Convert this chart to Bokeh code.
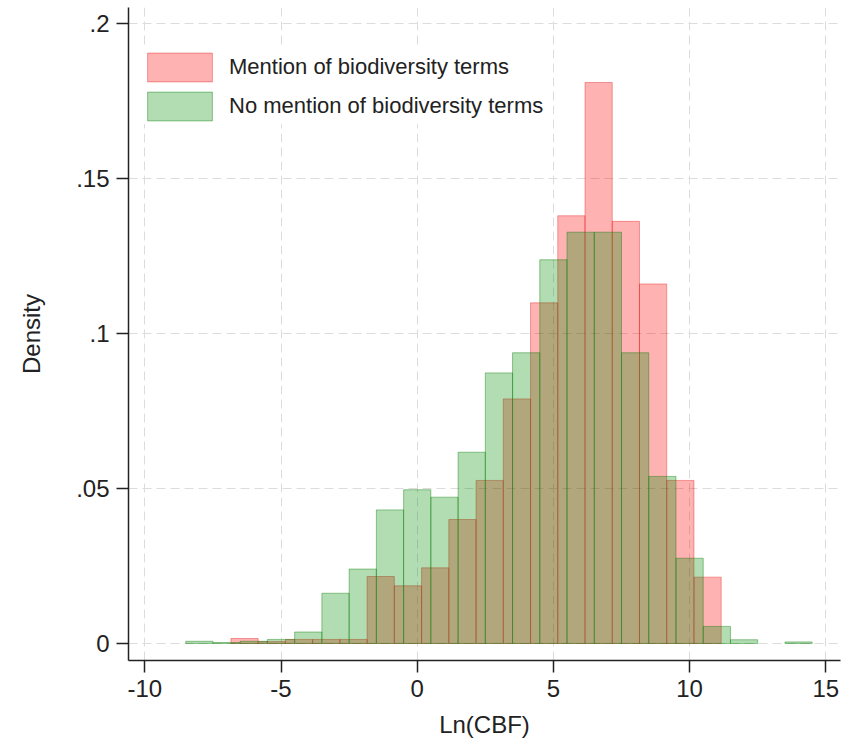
from bokeh.plotting import figure
from bokeh.models import (Range1d, FixedTicker, CustomJSTickFormatter, Legend,
                          LegendItem, ColumnDataSource)
from bokeh.embed import file_html
from bokeh.resources import INLINE

# ---- data ----
red_bin_edges = [-6.84, -5.84, -4.84, -3.84, -2.84, -1.84, -0.84, 0.16, 1.16,
                 2.16, 3.16, 4.16, 5.16, 6.16, 7.16, 8.16, 9.16, 10.16, 11.16]
red_density = [0.0016, 0.0006, 0.0013, 0.0013, 0.0013, 0.0216, 0.0186, 0.0244,
               0.0400, 0.0526, 0.0789, 0.1099, 0.1380, 0.1810, 0.1362, 0.1160,
               0.0526, 0.0214]

green_bin_edges = [-8.5, -7.5, -6.5, -5.5, -4.5, -3.5, -2.5, -1.5, -0.5, 0.5,
                   1.5, 2.5, 3.5, 4.5, 5.5, 6.5, 7.5, 8.5, 9.5, 10.5, 11.5,
                   12.5, 13.5, 14.5]
green_density = [0.0007, 0.0003, 0.0007, 0.0013, 0.0037, 0.0162, 0.0240, 0.0431,
                 0.0496, 0.0472, 0.0617, 0.0873, 0.0938, 0.1238, 0.1327, 0.1327,
                 0.0938, 0.0539, 0.0275, 0.0055, 0.0012, 0.0, 0.0005]

series_labels = ["Mention of biodiversity terms", "No mention of biodiversity terms"]
x_ticks = [-10, -5, 0, 5, 10, 15]
y_ticks = [0, 0.05, 0.1, 0.15, 0.2]
x_title = "Ln(CBF)"
y_title = "Density"


def hist_source(edges, dens):
    left, right, top = [], [], []
    for i, d in enumerate(dens):
        if d > 0:
            left.append(edges[i])
            right.append(edges[i + 1])
            top.append(d)
    return ColumnDataSource(dict(left=left, right=right, top=top,
                                 bottom=[0] * len(top)))


FONT = "Liberation Sans"
TXT = "#222222"

p = figure(width=848, height=742, output_backend="svg", toolbar_location=None,
           x_range=Range1d(-10.6, 15.54), y_range=Range1d(-0.0055, 0.2052),
           min_border_left=128, min_border_right=8, min_border_top=7,
           min_border_bottom=82)
p.outline_line_color = None
p.background_fill_color = "white"
p.border_fill_color = "white"

r_red = p.quad(left="left", right="right", top="top", bottom="bottom",
               source=hist_source(red_bin_edges, red_density),
               fill_color="#ff0000", fill_alpha=0.3,
               line_color="#e00000", line_alpha=0.35, line_width=1)
r_green = p.quad(left="left", right="right", top="top", bottom="bottom",
                 source=hist_source(green_bin_edges, green_density),
                 fill_color="#008c00", fill_alpha=0.3,
                 line_color="#007a00", line_alpha=0.4, line_width=1)

# axes
for ax in (p.xaxis[0], p.yaxis[0]):
    ax.axis_line_color = TXT
    ax.axis_line_width = 1.5
    ax.major_tick_line_color = TXT
    ax.major_tick_line_width = 1.5
    ax.major_tick_out = 12
    ax.major_tick_in = 0
    ax.minor_tick_line_color = None
    ax.major_label_text_font = FONT
    ax.major_label_text_font_size = "24px"
    ax.major_label_text_color = TXT
    ax.axis_label_text_font = FONT
    ax.axis_label_text_font_size = "24px"
    ax.axis_label_text_font_style = "normal"
    ax.axis_label_text_color = TXT

p.xaxis.ticker = FixedTicker(ticks=x_ticks)
p.yaxis.ticker = FixedTicker(ticks=y_ticks)
p.xaxis.axis_label = x_title
p.yaxis.axis_label = y_title
p.xaxis.major_label_standoff = 7
p.xaxis.axis_label_standoff = 11
p.yaxis.major_label_standoff = 7
p.yaxis.axis_label_standoff = 28
p.yaxis.major_label_orientation = "horizontal"
p.xaxis.formatter = CustomJSTickFormatter(code="return tick.toString();")
p.yaxis.formatter = CustomJSTickFormatter(code="""
    if (Math.abs(tick) < 1e-12) return "0";
    var s = tick.toFixed(2);
    s = s.replace(/^0/, "");
    s = s.replace(/0+$/, "");
    return s;
""")

# grid
for g in (p.xgrid[0], p.ygrid[0]):
    g.grid_line_color = "#dcdcdc"
    g.grid_line_dash = "9 5"
    g.grid_line_width = 1
p.xgrid.ticker = FixedTicker(ticks=x_ticks)
p.ygrid.ticker = FixedTicker(ticks=y_ticks)

legend = Legend(items=[LegendItem(label=series_labels[0], renderers=[r_red]),
                       LegendItem(label=series_labels[1], renderers=[r_green])],
                location=(11, 536))
legend.glyph_width = 81
legend.glyph_height = 36
legend.label_standoff = 9
legend.spacing = 3
legend.padding = 10
legend.margin = 0
legend.border_line_color = None
legend.background_fill_color = "white"
legend.background_fill_alpha = 1.0
legend.label_text_font = FONT
legend.label_text_font_size = "22px"
legend.label_text_color = TXT
p.add_layout(legend)

open("out.html", "w").write(file_html(p, INLINE))
